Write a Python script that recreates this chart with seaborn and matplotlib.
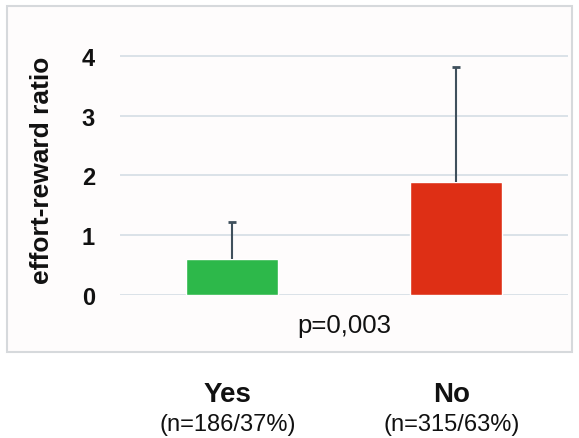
import numpy as np
import pandas as pd
import seaborn as sns
import matplotlib.pyplot as plt
from matplotlib.patches import Rectangle

sns.set_theme(style="white")
plt.rcParams['font.family'] = ['Liberation Sans', 'DejaVu Sans']

# data
groups = ["Yes", "No"]
counts = ["(n=186/37%)", "(n=315/63%)"]
means = [0.60, 1.89]
sd_upper = [0.62, 1.92]
colors = ["#2db84a", "#de2f15"]
p_text = "p=0,003"
yticks = [0, 1, 2, 3, 4]

df = pd.DataFrame({"group": groups, "ratio": means})

f = plt.figure(figsize=(5.79, 4.39), dpi=100)
f.patch.set_facecolor("white")

# light frame around the plot area
f.add_artist(Rectangle((7 / 579, (439 - 353) / 439), 565 / 579, 346 / 439,
                       transform=f.transFigure, facecolor="#fefcfc",
                       edgecolor="#d6d9dc", linewidth=1.5, zorder=0))

ax = f.add_axes([120 / 579, 143 / 439, 448 / 579, 251 / 439])
ax.set_facecolor("none")

sns.barplot(data=df, x="group", y="ratio", hue="group", palette=colors,
            width=0.41, saturation=1, legend=False, ax=ax, zorder=3)
_, caps, _ = ax.errorbar(np.arange(len(groups)), means,
                         yerr=[np.zeros(len(groups)), sd_upper],
                         fmt="none", ecolor="#3f505c", elinewidth=1.5,
                         capsize=3, capthick=2, zorder=4)
# only keep the upper caps
caps[0].set_visible(False)

ax.set_xlim(-0.5, len(groups) - 0.5)
ax.set_ylim(0, 4.2)
ax.set_yticks(yticks)
ax.set_yticklabels([str(t) for t in yticks], fontsize=17, fontweight="bold",
                   color="#111111")
ax.tick_params(axis="y", length=0, pad=18)
ax.yaxis.grid(True, color="#d5dde5", linewidth=1.2, zorder=0)
ax.set_ylabel("effort-reward ratio", fontsize=19, fontweight="bold",
              labelpad=20, color="#111111")
sns.despine(ax=ax, left=True, bottom=True, top=True, right=True)

ax.set_xticks([])
ax.set_xlabel("")

# p-value and group labels below the frame
ax.text(0.5, -0.12, p_text, transform=ax.transAxes, ha="center", va="center",
        fontsize=18.5, color="#111111")
for i, (g, n) in enumerate(zip(groups, counts)):
    ax.text(i - 0.02, -0.395, g, transform=ax.get_xaxis_transform(),
            ha="center", va="center", fontsize=20, fontweight="bold",
            color="#111111")
    ax.text(i - 0.02, -0.515, n, transform=ax.get_xaxis_transform(),
            ha="center", va="center", fontsize=17, color="#111111")

f.savefig("out.png", dpi=100)
